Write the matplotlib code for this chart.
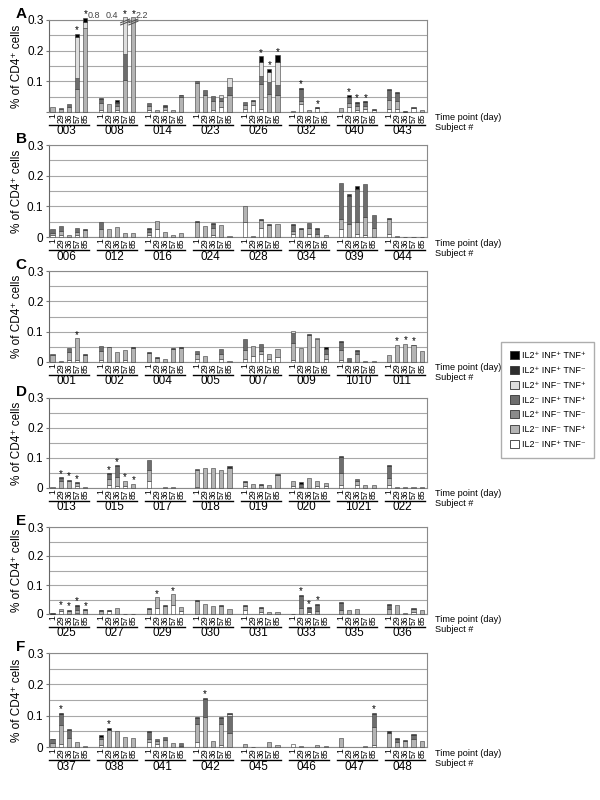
import matplotlib
matplotlib.use('Agg')
import matplotlib.pyplot as plt
from matplotlib.patches import Patch
import numpy as np

plt.rcParams['font.family'] = ['Liberation Sans', 'DejaVu Sans']

days = ['1', '29', '36', '57', '85']

# legend order (top -> bottom); bars are stacked the other way round
legend_labels = ['IL2⁺ INF⁺ TNF⁺', 'IL2⁺ INF⁺ TNF⁻', 'IL2⁺ INF⁻ TNF⁺', 'IL2⁻ INF⁺ TNF⁺',
                 'IL2⁺ INF⁻ TNF⁻', 'IL2⁻ INF⁻ TNF⁺', 'IL2⁻ INF⁺ TNF⁻']
legend_colors = ['#000000', '#2e2e2e', '#dedede', '#6e6e6e', '#8a8a8a', '#b4b4b4', '#ffffff']
stack_colors = legend_colors[::-1]

# each bar: (-+-, --+, +--, -++, +-+, ++-, +++) in 0.001 % of CD4+ cells, bottom to top
subjects_A = ['003', '008', '014', '023', '026', '032', '040', '043']
bars_A = [
    (0,16,0,0,0,0,0), (0,10,0,4,0,0,0), (0,15,0,12,0,0,0), (0,75,0,35,135,0,10), (0,275,0,0,20,0,12),
    (5,25,0,12,0,5,0), (0,25,0,0,0,0,0), (8,10,0,12,0,3,5), (0,103,0,87,120,0,0), (0,310,0,0,0,0,0),
    (5,15,0,10,0,0,0), (0,5,0,0,0,0,0), (5,10,0,4,0,3,0), (0,8,0,0,0,0,0), (0,50,0,4,0,3,0),
    (0,96,0,5,0,0,0), (0,55,0,18,0,0,0), (5,30,0,16,0,0,0), (15,20,0,10,12,0,0), (0,54,0,29,29,0,0),
    (10,12,0,10,0,0,0), (22,13,0,0,0,3,0), (11,81,0,24,47,0,18), (0,60,0,38,32,0,11), (0,54,0,33,76,0,22),
    (0,3,0,0,0,0,0), (25,10,0,40,0,0,4), (0,5,0,0,0,0,0), (12,0,0,0,0,0,4), (0,1,0,0,0,0,0),
    (0,14,0,0,0,0,0), (15,15,0,20,0,0,4), (8,10,0,12,0,0,3), (10,10,0,13,0,0,3), (8,0,0,0,0,3,0),
    (10,28,0,35,0,3,0), (10,25,0,27,0,3,0), (0,0,0,0,0,4,0), (12,0,0,0,0,4,0), (0,5,0,0,0,0,0),
]
stars_A = [('003', '57'), ('003', '85'), ('008', '57'), ('008', '85'), ('026', '36'), ('026', '57'),
           ('026', '85'), ('032', '29'), ('032', '57'), ('040', '29'), ('040', '36'), ('040', '57')]
# bars cut at the top of the axis, with their real value
cut_A = [('003', '85', '0.8', 'right'), ('008', '57', '0.4', 'left'), ('008', '85', '2.2', 'right')]

subjects_B = ['006', '012', '016', '024', '028', '034', '039', '044']
bars_B = [
    (5,8,0,12,0,0,0), (8,10,0,17,0,0,0), (0,8,0,0,0,0,0), (8,8,0,13,0,0,0), (0,22,0,0,0,3,0),
    (0,25,0,24,0,0,0), (0,27,0,0,0,0,0), (0,32,0,0,0,0,0), (0,13,0,0,0,0,0), (0,14,0,0,0,0,0),
    (8,8,0,10,0,3,0), (25,26,0,0,0,0,0), (0,16,0,0,0,0,0), (0,5,0,0,0,0,0), (0,12,0,0,0,0,0),
    (0,48,0,0,0,3,0), (0,36,0,0,0,0,0), (5,25,0,14,0,3,0), (0,38,0,0,0,0,0), (0,2,0,0,0,0,0),
    (48,52,0,0,0,0,0), (0,3,0,0,0,0,0), (28,28,0,0,0,2,0), (0,40,0,0,0,3,0), (0,43,0,0,0,0,0),
    (10,10,0,20,0,3,0), (0,27,0,0,0,3,0), (10,20,0,17,0,0,0), (0,10,0,17,0,3,0), (0,8,0,0,0,0,0),
    (25,35,0,116,0,0,0), (0,42,0,92,0,5,0), (10,40,0,108,0,0,7), (5,60,0,109,0,0,0), (0,30,0,43,0,0,0),
    (10,48,0,0,0,4,0), (0,3,0,0,0,0,0), (0,1,0,0,0,0,0), (0,1,0,0,0,0,0), (0,1,0,0,0,0,0),
]
stars_B = []

subjects_C = ['001', '002', '004', '005', '007', '009', '1010', '011']
bars_C = [
    (0,23,0,4,0,0,0), (0,4,0,0,0,0,0), (5,28,0,13,0,0,0), (5,73,0,0,0,0,0), (0,24,0,0,0,3,0),
    (5,30,0,18,0,0,0), (0,48,0,0,0,3,0), (0,32,0,0,0,0,0), (5,33,0,0,0,0,0), (0,47,0,0,0,4,0),
    (0,30,0,0,0,3,0), (0,13,0,0,0,3,0), (0,11,0,0,0,0,0), (0,43,0,0,0,3,0), (0,45,0,0,0,3,0),
    (10,15,0,12,0,0,0), (0,21,0,0,0,0,0), (0,0,0,0,0,0,0), (10,15,0,18,0,0,0), (0,3,0,0,0,0,0),
    (10,30,0,35,0,0,0), (20,33,0,0,0,0,0), (25,10,0,24,0,0,0), (10,17,0,0,0,0,0), (15,28,0,0,0,0,0),
    (5,57,0,32,8,0,0), (0,46,0,0,0,0,0), (0,88,0,0,0,3,0), (0,75,0,0,5,0,0), (10,15,0,18,0,0,5),
    (5,35,0,27,0,3,0), (0,0,0,13,0,0,0), (0,25,0,12,0,3,0), (0,4,0,0,0,0,0), (0,4,0,0,0,0,0),
    (0,22,0,0,0,0,0), (0,57,0,0,0,0,0), (0,60,0,0,0,0,0), (0,55,0,0,0,2,0), (0,37,0,0,0,0,0),
]
stars_C = [('001', '57'), ('011', '29'), ('011', '36'), ('011', '57')]

subjects_D = ['013', '015', '017', '018', '019', '020', '1021', '022']
bars_D = [
    (0,4,0,0,0,0,0), (0,25,0,8,0,3,0), (0,25,0,0,0,3,0), (8,10,0,0,0,2,0), (0,5,0,0,0,0,0),
    (0,0,0,0,0,0,0), (10,20,0,17,0,3,0), (8,30,0,35,0,3,0), (8,16,0,0,0,0,0), (0,14,0,0,0,0,0),
    (25,35,0,34,0,0,0), (0,0,0,0,0,0,0), (0,4,0,0,0,0,0), (0,2,0,0,0,0,0), (0,0,0,0,0,0,0),
    (5,55,0,3,0,0,0), (0,66,0,0,0,0,0), (0,67,0,0,0,0,0), (0,60,0,0,0,0,0), (0,68,0,0,0,4,0),
    (8,12,0,0,0,4,0), (0,14,0,0,0,0,0), (0,10,0,0,0,4,0), (0,11,0,0,0,0,0), (0,42,0,0,0,4,0),
    (8,14,0,0,0,0,0), (5,0,0,10,0,0,5), (0,33,0,0,0,0,0), (8,14,0,0,0,0,0), (6,12,0,0,0,0,0),
    (10,40,0,55,0,3,0), (0,0,0,0,0,0,0), (10,12,0,8,0,0,0), (0,9,0,0,0,0,0), (0,11,0,0,0,0,0),
    (10,25,0,40,0,3,0), (0,2,0,0,0,0,0), (0,5,0,0,0,0,0), (0,2,0,0,0,0,0), (0,5,0,0,0,0,0),
]
stars_D = [('013', '29'), ('013', '36'), ('013', '57'), ('015', '29'), ('015', '36'),
           ('015', '57'), ('015', '85')]

subjects_E = ['025', '027', '029', '030', '031', '033', '035', '036']
bars_E = [
    (0,0,0,0,0,0,2), (10,8,0,0,0,0,0), (0,12,0,0,0,3,0), (5,8,0,14,0,0,5), (0,14,0,0,0,3,0),
    (0,10,0,3,0,2,0), (10,0,0,0,0,4,0), (0,22,0,0,0,0,0), (0,1,0,0,0,0,0), (0,1,0,0,0,0,0),
    (0,18,0,0,0,4,0), (20,38,0,0,0,0,0), (0,28,0,0,0,4,0), (30,39,0,0,0,0,0), (10,14,0,0,0,0,0),
    (0,45,0,0,0,3,0), (0,36,0,0,0,0,0), (0,26,0,0,0,0,0), (0,27,0,0,0,3,0), (0,17,0,0,0,0,0),
    (15,12,0,0,0,3,0), (0,0,0,0,0,0,0), (8,12,0,0,0,3,0), (0,6,0,0,0,0,0), (0,6,0,0,0,0,0),
    (0,1,0,0,0,0,0), (0,20,0,42,0,4,0), (8,0,0,13,0,3,0), (0,10,0,22,0,3,0), (0,0,0,0,0,0,0),
    (0,15,0,22,0,3,0), (0,13,0,0,0,0,0), (0,16,0,0,0,0,0), (0,0,0,0,0,0,0), (0,0,0,0,0,0,0),
    (0,18,0,14,0,3,0), (0,30,0,0,0,0,0), (0,2,0,0,0,0,0), (8,8,0,0,0,3,0), (0,15,0,0,0,0,0),
]
stars_E = [('025', '29'), ('025', '36'), ('025', '57'), ('025', '85'), ('029', '29'),
           ('029', '57'), ('033', '29'), ('033', '36'), ('033', '57')]

subjects_F = ['037', '038', '041', '042', '045', '046', '047', '048']
bars_F = [
    (0,12,0,12,0,3,0), (8,63,0,35,0,0,4), (0,30,0,24,0,2,0), (0,16,0,0,0,0,0), (0,2,0,0,0,0,0),
    (5,20,0,8,0,0,4), (0,55,0,0,0,0,6), (0,51,0,0,0,0,0), (0,33,0,0,0,0,0), (0,30,0,0,0,0,0),
    (15,10,0,23,0,3,0), (10,10,0,7,0,0,0), (0,21,0,10,0,0,0), (0,12,0,0,0,0,0), (0,4,0,8,0,0,0),
    (15,57,0,20,0,3,0), (0,95,0,58,0,4,0), (0,18,0,0,0,0,0), (5,68,0,20,0,3,0), (0,45,0,55,5,2,0),
    (0,9,0,0,0,0,0), (0,1,0,0,0,0,0), (0,0,0,0,0,0,0), (0,16,0,0,0,0,0), (0,5,0,0,0,0,0),
    (10,0,0,0,0,0,0), (0,3,0,0,0,0,0), (0,0,0,0,0,0,0), (0,5,0,0,0,0,0), (0,3,0,0,0,0,0),
    (0,28,0,0,0,0,0), (0,0,0,0,0,0,0), (0,0,0,0,0,0,0), (0,2,0,0,0,0,0), (5,60,0,40,0,4,0),
    (0,45,0,0,0,5,0), (0,15,0,10,0,3,0), (0,20,0,0,0,3,0), (0,25,0,12,0,3,0), (0,18,0,0,0,0,0),
]
stars_F = [('037', '29'), ('038', '29'), ('042', '29'), ('047', '85')]

# (letter, subjects, bars, stars, top px, bottom px)
panels = [
    ('A', subjects_A, bars_A, stars_A, 20, 112),
    ('B', subjects_B, bars_B, stars_B, 145, 237),
    ('C', subjects_C, bars_C, stars_C, 271, 362),
    ('D', subjects_D, bars_D, stars_D, 398, 488),
    ('E', subjects_E, bars_E, stars_E, 527, 614),
    ('F', subjects_F, bars_F, stars_F, 653, 747),
]

W, H = 600, 800
group_pitch = 5.86
x0 = 0.43

fig = plt.figure(figsize=(6, 8), dpi=100)

for letter, subjects, bars, stars, top, bot in panels:
    hpx = bot - top
    ax = fig.add_axes([49 / W, 1 - bot / H, 378 / W, hpx / H])
    vals = np.array(bars) / 1000.0
    x = np.array([g * group_pitch + x0 + i for g in range(8) for i in range(5)])

    bottom = np.zeros(len(x))
    for k in range(7):
        m = vals[:, k] > 0
        ax.bar(x[m], vals[m, k], width=0.5, bottom=bottom[m], color=stack_colors[k],
               edgecolor='#3a3a3a', linewidth=0.4, zorder=3, clip_on=False)
        bottom += vals[:, k]

    for subj, day in stars:
        idx = subjects.index(subj) * 5 + days.index(day)
        ax.text(x[idx], bottom[idx] + 0.001, '*', ha='center', va='baseline', fontsize=7)

    ax.set_xlim(0, 46.1)
    ax.set_ylim(0, 0.3)
    ax.set_yticks([0, 0.1, 0.2, 0.3])
    if letter == 'A':
        ax.set_yticklabels(['', '0.1', '0.2', '0.3'])
    else:
        ax.set_yticklabels(['0', '0.1', '0.2', '0.3'])
    ax.set_yticks([0.05, 0.15, 0.25], minor=True)
    ax.yaxis.grid(True, which='both', color='#a8a8a8', linewidth=0.8, zorder=0)
    ax.set_axisbelow(True)
    ax.tick_params(axis='y', which='major', length=2.5, pad=1.5, labelsize=8.5, color='#777777')
    ax.tick_params(axis='y', which='minor', length=0)
    ax.set_xticks(x)
    ax.set_xticklabels(days * 8, rotation=90, fontsize=6.2, va='top')
    ax.tick_params(axis='x', length=0, pad=1)
    for s in ['left', 'right', 'top', 'bottom']:
        ax.spines[s].set_color('#8a8a8a')
        ax.spines[s].set_linewidth(0.8)
    ax.spines['left'].set_color('#666666')

    ax.set_ylabel('% of CD4⁺ cells', fontsize=8.5)
    ax.yaxis.set_label_coords(-0.07, 0.5)

    # subject underline and label
    xt = ax.get_xaxis_transform()
    for g, subj in enumerate(subjects):
        gs = g * group_pitch + x0
        ax.plot([gs - 0.45, gs + 4.45], [-13 / hpx] * 2, color='black', lw=1.0,
                transform=xt, clip_on=False)
        ax.text(gs + 0.5, -19.5 / hpx, subj, ha='left', va='center', fontsize=8.5, transform=xt)

    ax.text(1.022, -6 / hpx, 'Time point (day)', transform=ax.transAxes, fontsize=6.6, va='center')
    ax.text(1.022, -16 / hpx, 'Subject #', transform=ax.transAxes, fontsize=6.6, va='center')

    fig.text(21 / W, 1 - (top - 6) / H, letter, fontsize=11, fontweight='bold',
             ha='center', va='center')

    if letter == 'A':
        yv = 0.3 + 5 * 0.3 / hpx
        for subj, day, txt, side in cut_A:
            idx = subjects.index(subj) * 5 + days.index(day)
            if side == 'right':
                ax.text(x[idx] + 0.3, yv, txt, ha='left', va='center', fontsize=6.5, color='#444444')
            else:
                ax.text(x[idx] - 0.8, yv, txt, ha='right', va='center', fontsize=6.5, color='#444444')
        # break marks on the two very tall bars of subject 008
        for day in ['57', '85']:
            idx = subjects.index('008') * 5 + days.index(day)
            for dy in [0.0, 0.007]:
                ax.plot([x[idx] - 0.55, x[idx] + 0.55], [0.284 + dy, 0.296 + dy], color='#555555',
                        lw=0.8, clip_on=False, zorder=5)

handles = [Patch(facecolor=c, edgecolor='#333333', linewidth=0.6) for c in legend_colors]
fig.legend(handles, legend_labels, loc='center', bbox_to_anchor=(0.9125, 0.5), fontsize=6.5,
           frameon=True, fancybox=False, edgecolor='#999999', handlelength=1.0, handleheight=1.0,
           labelspacing=0.64, borderpad=1.0, handletextpad=0.3)

fig.savefig('out.png', dpi=100)
